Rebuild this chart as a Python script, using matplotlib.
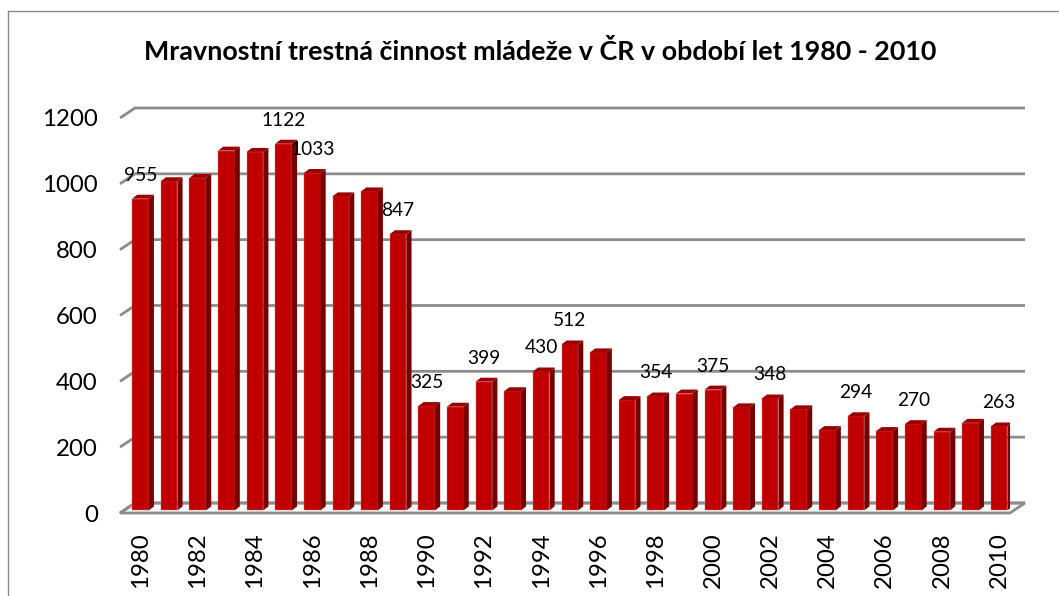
#!/usr/bin/env python3
"""Mravnostní trestná činnost mládeže v ČR 1980 - 2010 (3D-style column chart)."""

import matplotlib
matplotlib.use("Agg")
import matplotlib.pyplot as plt
from matplotlib.patches import Polygon

plt.rcParams["font.family"] = ["Lato", "DejaVu Sans"]

# Data
years = list(range(1980, 2011))
values = [955, 1008, 1018, 1101, 1097, 1122, 1033, 962, 977, 847,
          325, 323, 399, 370, 430, 512, 488, 343, 354, 363,
          375, 321, 348, 315, 252, 294, 249, 270, 247, 274, 263]
labeled_years = [1980, 1985, 1986, 1989, 1990, 1992, 1994, 1995,
                 1998, 2000, 2002, 2005, 2007, 2010]
y_ticks = [0, 200, 400, 600, 800, 1000, 1200]

TITLE = "Mravnostní trestná činnost mládeže v ČR v období let 1980 - 2010"

# Colours
FRONT = "#c00000"
SIDE = "#780000"
TOP = "#9a0000"
GRID = "#8c8c8c"

W, H = 1059, 596
fig = plt.figure(figsize=(W / 100, H / 100), dpi=100)

# axes: front plane, pixel box 120..1010 x 118..513
ax = fig.add_axes([120 / W, (H - 513) / H, 890 / W, 395 / H])
xl, xr = -0.716, 30.38
ax.set_xlim(xl, xr)
ax.set_ylim(0, 1200)
for s in ax.spines.values():
    s.set_visible(False)
ax.patch.set_visible(False)

# 3D offsets (data units)
dx, dy = 0.524, 30.4      # wall depth
sd, sr = 0.18, 12         # bar depth
bw = 0.58                 # bar front width
b0 = 8                    # bar base

# floor
floor = Polygon([(xl, 0), (xr, 0), (xr + dx, dy), (xl + dx, dy)], closed=True,
                facecolor="#f7f7f7", edgecolor=GRID, lw=2, zorder=1, clip_on=False)
ax.add_patch(floor)

# back-wall gridlines with the slanted stub at the left
for v in y_ticks:
    ax.plot([xl, xl + dx, xr + dx], [v, v + dy, v + dy], color=GRID, lw=2,
            zorder=1.5, clip_on=False, solid_capstyle="butt")

# bars
for i, v in enumerate(values):
    x0, x1 = i - bw / 2, i + bw / 2
    ax.bar(i, v - b0, bottom=b0, width=bw, color=FRONT, edgecolor="#e07070",
           linewidth=0.3, zorder=3)
    ax.add_patch(Polygon([(x1, b0), (x1 + sd, b0 + sr), (x1 + sd, v + sr), (x1, v)],
                         closed=True, facecolor=SIDE, edgecolor="none", zorder=3))
    ax.add_patch(Polygon([(x0, v), (x0 + sd, v + sr), (x1 + sd, v + sr), (x1, v)],
                         closed=True, facecolor=TOP, edgecolor="none", zorder=3))
    if years[i] in labeled_years:
        ax.annotate(str(v), (i, v), xytext=(0, 13), textcoords="offset points",
                    ha="center", va="baseline", fontsize=13.8, color="black")

# ticks
ax.set_yticks(y_ticks)
ax.set_yticklabels([str(t) for t in y_ticks], fontsize=17.3)
ax.set_xticks(range(0, len(years), 2))
ax.set_xticklabels([str(y) for y in years[::2]], rotation=90, fontsize=17.3)
ax.tick_params(axis="both", length=0)
ax.tick_params(axis="y", pad=16)
ax.tick_params(axis="x", pad=14)

fig.text(540 / W, 1 - 52 / H, TITLE, ha="center", va="center",
         fontsize=19.4, fontweight="bold")

# chart border (left and top visible)
fig.add_artist(plt.Line2D([8 / W, 8 / W], [0, 1 - 11 / H], color="#8c8c8c", lw=1))
fig.add_artist(plt.Line2D([8 / W, 1], [1 - 11 / H, 1 - 11 / H], color="#8c8c8c", lw=1))

fig.savefig("out.png", dpi=100)
